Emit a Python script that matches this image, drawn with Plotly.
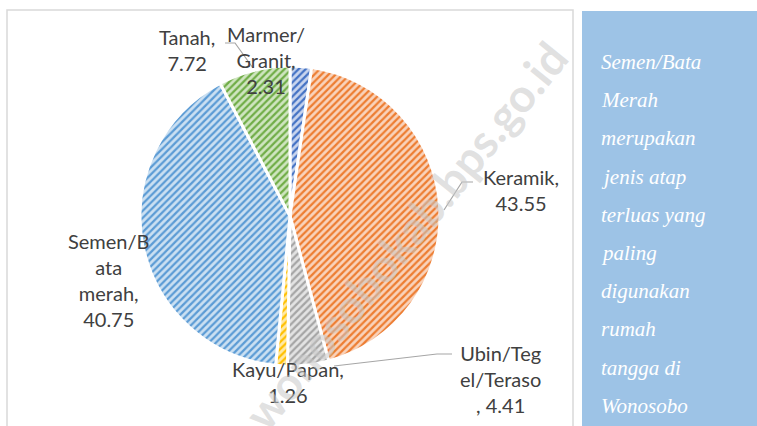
import plotly.graph_objects as go

# ---- data ----
categories = ["Marmer/Granit", "Keramik", "Ubin/Tegel/Teraso", "Kayu/Papan", "Semen/Bata merah", "Tanah"]
values = [2.31, 43.55, 4.41, 1.26, 40.75, 7.72]
label_wrapped = ["Marmer/<br>Granit,", "Keramik,", "Ubin/Teg<br>el/Teraso<br>,", "Kayu/Papan,", "Semen/B<br>ata<br>merah,", "Tanah,"]
colors = ["#4472C4", "#ED7D31", "#A5A5A5", "#FFC000", "#5B9BD5", "#70AD47"]
light = ["#C9D5EE", "#F9D3BB", "#E3E3E3", "#FFE9A6", "#CBE0F2", "#CFE5C0"]
side_lines = ["Semen/Bata", "Merah", "merupakan", "jenis atap", "terluas yang", "paling",
              "digunakan", "rumah", "tangga di", "Wonosobo"]
watermark = "wonosobokab.bps.go.id"

W, H = 757, 426
def px(x): return x / W
def py(y): return 1 - y / H

fig = go.Figure()
fig.add_trace(go.Pie(
    labels=categories, values=values, sort=False, direction="clockwise", rotation=0,
    textinfo="none", hoverinfo="label+value", showlegend=False,
    marker=dict(colors=light, line=dict(color="white", width=3),
                pattern=dict(shape="/", fgcolor=colors, bgcolor=light, size=5, solidity=0.45,
                             fillmode="replace")),
    domain=dict(x=[px(139), px(441)], y=[py(366), py(66)]),
))

shapes = [
    dict(type="rect", xref="paper", yref="paper", x0=px(7), x1=px(573), y0=py(432), y1=py(10),
         line=dict(color="#D9D9D9", width=1.5), fillcolor="rgba(0,0,0,0)", layer="below"),
    dict(type="rect", xref="paper", yref="paper", x0=px(582), x1=px(760), y0=py(430), y1=py(11),
         line=dict(width=0), fillcolor="#9DC3E6", layer="below"),
    # leader lines
    dict(type="path", xref="paper", yref="paper",
         path=f"M {px(444)} {py(210)} L {px(462)} {py(182)} L {px(473)} {py(182)}",
         line=dict(color="#A6A6A6", width=1.2)),
    dict(type="path", xref="paper", yref="paper",
         path=f"M {px(334)} {py(366)} L {px(437)} {py(354)} L {px(452)} {py(354)}",
         line=dict(color="#A6A6A6", width=1.2)),
    dict(type="path", xref="paper", yref="paper",
         path=f"M {px(225)} {py(43)} L {px(235)} {py(43)} L {px(253)} {py(68)}",
         line=dict(color="#A6A6A6", width=1.2)),
]

label_pos = [(266, 60), (521, 190), (500, 379), (288, 382), (109, 280), (187, 50)]
annotations = []
font_lbl = dict(family="Lato, sans-serif", size=20, color="#404040")
for lab, v, (x, y) in zip(label_wrapped, values, label_pos):
    if lab.endswith("<br>,"):
        txt = lab + f" {v:.2f}"
    else:
        txt = lab + f"<br>{v:.2f}"
    annotations.append(dict(x=px(x), y=py(y), xref="paper", yref="paper", text=txt,
                            showarrow=False, font=font_lbl, align="center",
                            xanchor="center", yanchor="middle"))

for i, line in enumerate(side_lines):
    annotations.append(dict(x=px(599), y=py(62 + i * 38.2), xref="paper", yref="paper", text=line,
                            showarrow=False, xanchor="left", yanchor="middle", align="left",
                            font=dict(family="Liberation Serif, serif", size=21, color="white", style="italic")))

annotations.append(dict(x=px(405), y=py(235), xref="paper", yref="paper", text=f"<b>{watermark}</b>",
                        showarrow=False, textangle=-51,
                        font=dict(family="Lato, sans-serif", size=46, color="rgba(200,200,200,0.55)")))

fig.update_layout(width=W, height=H, margin=dict(l=0, r=0, t=0, b=0),
                  paper_bgcolor="white", plot_bgcolor="white",
                  shapes=shapes, annotations=annotations)
fig.write_html("out.html", config={"displayModeBar": False},
               post_script="document.body.style.margin='0px';")
